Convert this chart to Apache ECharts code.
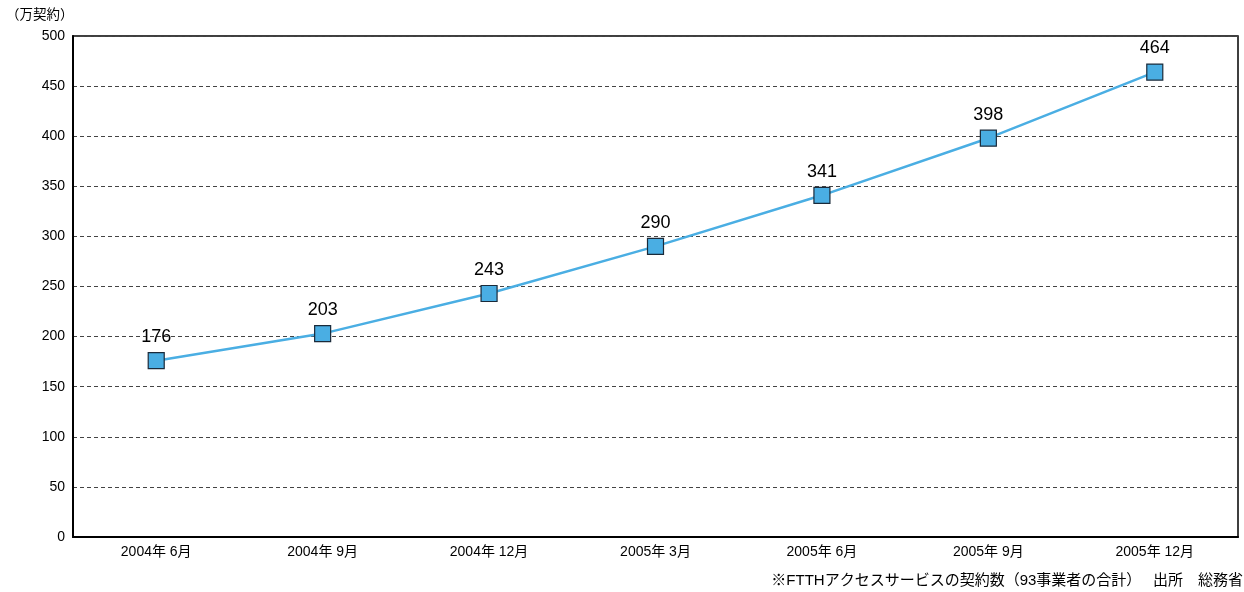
<!DOCTYPE html>
<html><head><meta charset="utf-8">
<script src="https://cdn.jsdelivr.net/npm/echarts@6/dist/echarts.min.js"></script>
<style>html,body{margin:0;padding:0;background:#fff}#c{width:1244px;height:592px}</style>
</head><body><div id="c"></div>
<script>
const categories = ['2004年 6月','2004年 9月','2004年 12月','2005年 3月','2005年 6月','2005年 9月','2005年 12月'];
const values = [176, 203, 243, 290, 341, 398, 464];
const yTicks = {min: 0, max: 500, interval: 50};
const unitLabel = '（万契約）';
const footnote = '※FTTHアクセスサービスの契約数（93事業者の合計）　 出所　総務省';
const FONT = '"Liberation Sans", "Noto Sans CJK JP", sans-serif';
const chart = echarts.init(document.getElementById('c'));
chart.setOption({
  animation: false,
  backgroundColor: '#fff',
  grid: {left: 73, right: 6, top: 36, bottom: 55, show: true, borderColor: '#000', borderWidth: 1.5},
  graphic: [
    {type: 'text', left: 6, top: 9, style: {text: unitLabel, font: '13.5px ' + FONT, fill: '#000'}},
    {type: 'text', right: 1, top: 573, style: {text: footnote, font: '15px ' + FONT, fill: '#000'}}
  ],
  xAxis: {
    type: 'category', data: categories, boundaryGap: true,
    axisLine: {lineStyle: {color: '#000', width: 2}},
    axisTick: {show: false},
    axisLabel: {color: '#000', fontSize: 14, fontFamily: FONT, margin: 8}
  },
  yAxis: {
    type: 'value', min: yTicks.min, max: yTicks.max, interval: yTicks.interval,
    axisLine: {show: true, lineStyle: {color: '#000', width: 2}},
    axisTick: {show: false},
    axisLabel: {color: '#000', fontSize: 14, fontFamily: FONT, margin: 8},
    splitLine: {lineStyle: {color: '#444', type: [4, 3], width: 1}}
  },
  series: [{
    type: 'line', data: values,
    symbol: 'rect', symbolSize: 16,
    lineStyle: {color: '#4aaee3', width: 2.5},
    itemStyle: {color: '#4aaee3', borderColor: '#1a2a3a', borderWidth: 1.2},
    label: {show: true, position: 'top', distance: 6, color: '#000', fontSize: 18, fontFamily: FONT}
  }]
});
</script></body></html>
